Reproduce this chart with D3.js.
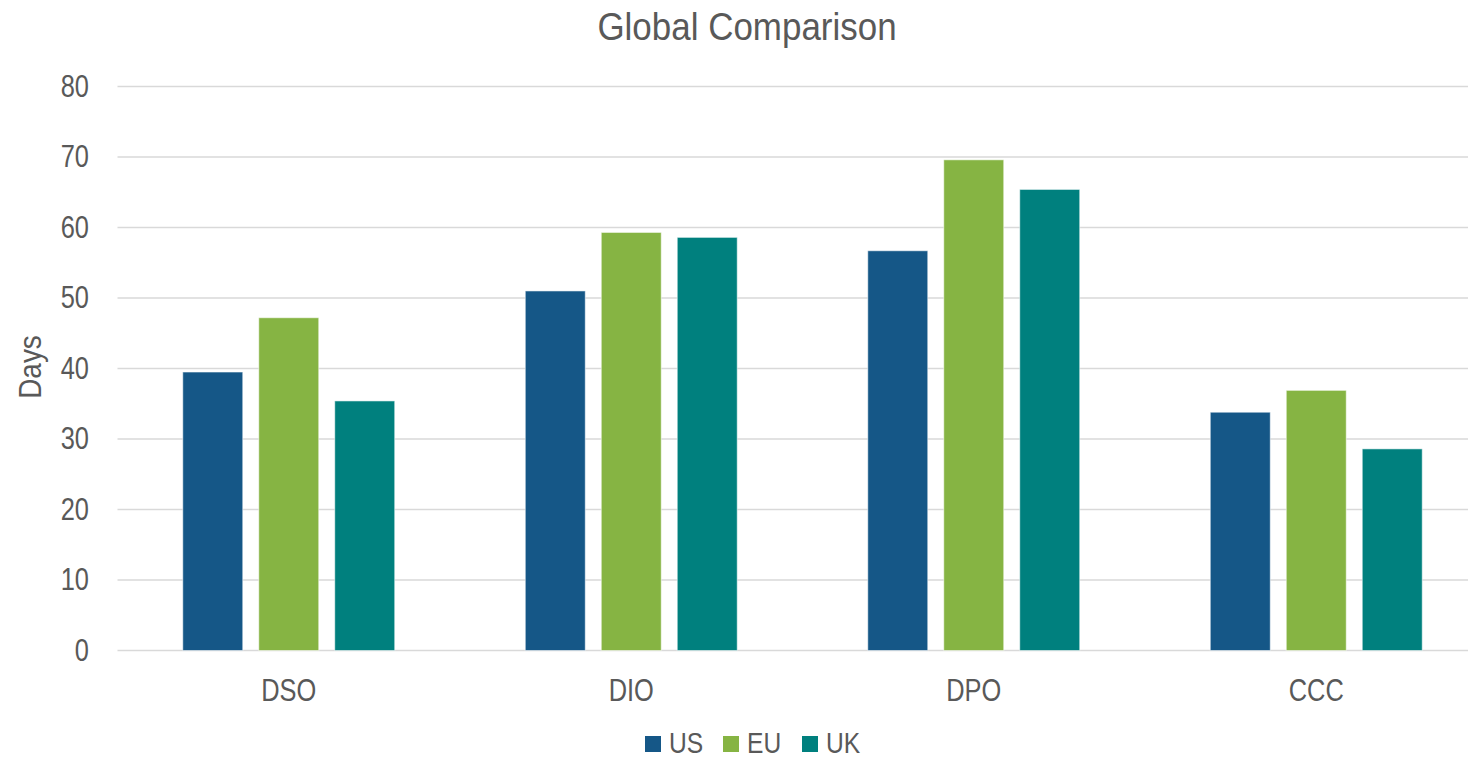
<!DOCTYPE html>
<html>
<head>
<meta charset="utf-8">
<script src="https://cdn.jsdelivr.net/npm/d3@7/dist/d3.min.js"></script>
<style>
  html, body { margin: 0; padding: 0; background: #ffffff; }
  svg { display: block; }
  text { font-family: "Liberation Sans", Arial, sans-serif; fill: #595959; }
</style>
</head>
<body>
<svg id="chart" width="1468" height="760"></svg>
<script>
// Working-capital metrics (days) by region
const categories = ["DSO", "DIO", "DPO", "CCC"];
const seriesNames = ["US", "EU", "UK"];
const usValues = [39.5, 51.0, 56.7, 33.8];
const euValues = [47.2, 59.3, 69.6, 36.9];
const ukValues = [35.4, 58.6, 65.4, 28.6];
const yTicks = [0, 10, 20, 30, 40, 50, 60, 70, 80];
const colors = ["#155787", "#86b443", "#00807e"];

const seriesValues = [usValues, euValues, ukValues];

// condensed look for the labels
const NARROW = 0.82;

const svg = d3.select("#chart");
const plot = { left: 117.5, right: 1487.5, top: 86.5, bottom: 650.5 };

const x0 = d3.scaleBand()
  .domain(categories)
  .range([plot.left, plot.right])
  .padding(0);

const x1 = d3.scaleBand()
  .domain(seriesNames)
  .range([0, x0.bandwidth()])
  .paddingInner(16 / 76)
  .paddingOuter(0.859);

const y = d3.scaleLinear()
  .domain([0, 80])
  .range([plot.bottom, plot.top]);

// Title
svg.append("g")
  .attr("transform", "translate(747,40) scale(0.92,1)")
  .append("text")
  .attr("text-anchor", "middle")
  .style("font-size", "38px")
  .text("Global Comparison");

// Horizontal gridlines
svg.append("g")
  .selectAll("line")
  .data(yTicks)
  .join("line")
  .attr("x1", plot.left)
  .attr("x2", plot.right)
  .attr("y1", d => y(d))
  .attr("y2", d => y(d))
  .attr("stroke", "#d9d9d9")
  .attr("stroke-width", 1.5);

// Y axis tick labels
const yAxis = d3.axisLeft(y).tickValues(yTicks).tickSize(0).tickPadding(0);
const yg = svg.append("g")
  .attr("transform", `translate(89,0)`)
  .call(yAxis);
yg.select(".domain").remove();
yg.selectAll("text")
  .attr("fill", "#595959")
  .attr("transform", `scale(${NARROW},1)`)
  .style("font-size", "31px")
  .style("font-family", "\"Liberation Sans\", Arial, sans-serif");

// Y axis title
svg.append("g")
  .attr("transform", "translate(41,367) rotate(-90) scale(0.9,1)")
  .append("text")
  .attr("text-anchor", "middle")
  .style("font-size", "31px")
  .text("Days");

// Bars
const rows = categories.map((c, i) => ({
  category: c,
  values: seriesNames.map((s, j) => ({ series: s, idx: j, value: seriesValues[j][i] }))
}));

const groups = svg.append("g")
  .selectAll("g")
  .data(rows)
  .join("g")
  .attr("transform", d => `translate(${x0(d.category)},0)`);

groups.selectAll("rect")
  .data(d => d.values)
  .join("rect")
  .attr("x", d => x1(d.series))
  .attr("width", x1.bandwidth())
  .attr("y", d => y(d.value))
  .attr("height", d => y(0) - y(d.value))
  .attr("fill", d => colors[d.idx])
  .attr("stroke", "rgba(255,255,255,0.55)")
  .attr("stroke-width", 1);

// X axis category labels
const xAxis = d3.axisBottom(x0).tickSize(0).tickPadding(0);
const xg = svg.append("g")
  .attr("transform", `translate(0,${plot.bottom + 28})`)
  .call(xAxis);
xg.select(".domain").remove();
xg.selectAll("text")
  .attr("fill", "#595959")
  .attr("transform", `scale(${NARROW},1)`)
  .style("font-size", "31px")
  .style("font-family", "\"Liberation Sans\", Arial, sans-serif");

// Legend
const legendX = [645, 723, 802];
const legend = svg.append("g")
  .selectAll("g")
  .data(seriesNames)
  .join("g")
  .attr("transform", (d, i) => `translate(${legendX[i]},736)`);
legend.append("rect")
  .attr("width", 16)
  .attr("height", 16)
  .attr("fill", (d, i) => colors[i]);
legend.append("g")
  .attr("transform", `translate(24,17) scale(${NARROW},1)`)
  .append("text")
  .style("font-size", "30px")
  .text(d => d);
</script>
</body>
</html>
